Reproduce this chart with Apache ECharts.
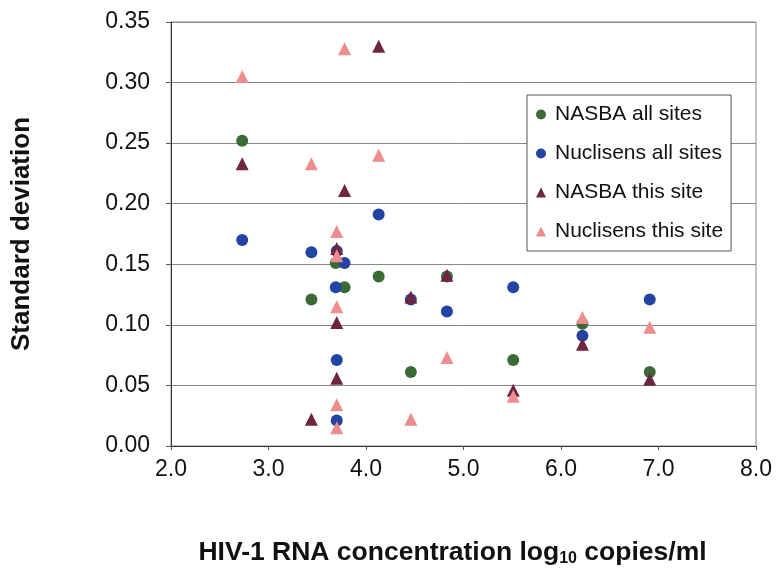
<!DOCTYPE html>
<html>
<head>
<meta charset="utf-8">
<script src="https://cdn.jsdelivr.net/npm/echarts@6/dist/echarts.min.js"></script>
<style>html,body{margin:0;padding:0;background:#fff;}#chart{width:776px;height:570px;}</style>
</head>
<body>
<div id="chart"></div>
<script>
// Series names
const seriesNames = ['NASBA all sites', 'Nuclisens all sites', 'NASBA this site', 'Nuclisens this site'];

// NASBA all sites
const nasbaAllX = [2.73, 3.44, 3.69, 3.78, 4.13, 4.46, 4.83, 5.51, 6.22, 6.91];
const nasbaAllY = [0.252, 0.121, 0.151, 0.131, 0.140, 0.061, 0.140, 0.071, 0.101, 0.061];

// Nuclisens all sites
const nucAllX = [2.73, 3.44, 3.70, 3.78, 3.69, 3.70, 3.70, 4.13, 4.46, 4.83, 5.51, 6.22, 6.91];
const nucAllY = [0.170, 0.160, 0.161, 0.151, 0.131, 0.071, 0.021, 0.191, 0.121, 0.111, 0.131, 0.091, 0.121];

// NASBA this site
const nasbaSiteX = [2.73, 3.44, 3.70, 3.70, 3.70, 3.78, 4.13, 4.46, 4.83, 5.51, 6.22, 6.91];
const nasbaSiteY = [0.233, 0.022, 0.163, 0.102, 0.056, 0.211, 0.330, 0.123, 0.141, 0.046, 0.084, 0.055];

// Nuclisens this site
const nucSiteX = [2.73, 3.44, 3.70, 3.70, 3.70, 3.70, 3.70, 3.78, 4.13, 4.46, 4.83, 5.51, 6.22, 6.91];
const nucSiteY = [0.305, 0.233, 0.177, 0.157, 0.115, 0.034, 0.015, 0.328, 0.240, 0.022, 0.073, 0.041, 0.106, 0.098];

const zip = (xs, ys) => xs.map((x, i) => [x, ys[i]]);

const chart = echarts.init(document.getElementById('chart'), null, {renderer: 'canvas'});
const font = 'Liberation Sans, Arial, sans-serif';
const colors = ['#3b6a37', '#2444a4', '#6e2540', '#ee8c8e'];
const symbols = ['circle', 'circle', 'triangle', 'triangle'];
const sizes = [12, 12, 13, 13];
const datas = [zip(nasbaAllX, nasbaAllY), zip(nucAllX, nucAllY), zip(nasbaSiteX, nasbaSiteY), zip(nucSiteX, nucSiteY)];

chart.setOption({
  animation: false,
  backgroundColor: '#fff',
  grid: {left: 171, right: 20, top: 22, bottom: 124, containLabel: false, outerBoundsMode: 'none',
         show: true, borderColor: '#888', borderWidth: 1, backgroundColor: 'transparent'},
  legend: {
    orient: 'vertical', left: 527, top: 95,
    padding: [9, 8, 9, 9],
    itemGap: 18, itemWidth: 10, itemHeight: 10,
    backgroundColor: '#fff', borderColor: '#555', borderWidth: 1,
    textStyle: {fontFamily: font, fontSize: 21, color: '#111', padding: [0, 0, 0, 4]},
    data: seriesNames.map((n, i) => ({name: n, icon: symbols[i]}))
  },
  xAxis: {
    type: 'value', min: 2, max: 8, interval: 1,
    name: 'HIV-1 RNA concentration log{sub|10} copies/ml',
    nameLocation: 'middle', nameGap: 93,
    nameTextStyle: {fontFamily: font, fontSize: 26.5, fontWeight: 'bold', color: '#111', padding: [0, 22, 0, 0],
      rich: {sub: {fontFamily: font, fontSize: 16, fontWeight: 'bold', color: '#111', verticalAlign: 'bottom', padding: [12, 0, 0, 0]}}},
    axisLine: {lineStyle: {color: '#333', width: 1}},
    axisTick: {show: true, inside: false, length: 4, lineStyle: {color: '#555'}},
    axisLabel: {fontFamily: font, fontSize: 23, color: '#111', margin: 12, formatter: v => v.toFixed(1)},
    splitLine: {show: false}
  },
  yAxis: {
    type: 'value', min: 0, max: 0.35, interval: 0.05,
    name: 'Standard deviation',
    nameLocation: 'middle', nameGap: 136, nameRotate: 90,
    nameTextStyle: {fontFamily: font, fontSize: 26, fontWeight: 'bold', color: '#111'},
    axisLine: {show: true, lineStyle: {color: '#333', width: 1}},
    axisTick: {show: true, inside: false, length: 5, lineStyle: {color: '#555'}},
    axisLabel: {fontFamily: font, fontSize: 23, color: '#111', margin: 21, formatter: v => v.toFixed(2)},
    splitLine: {show: true, lineStyle: {color: '#888', width: 1}}
  },
  series: seriesNames.map((n, i) => ({
    name: n, type: 'scatter', symbol: symbols[i], symbolSize: sizes[i],
    itemStyle: {color: colors[i], opacity: 1},
    data: datas[i], z: 2 + i
  }))
});
</script>
</body>
</html>
